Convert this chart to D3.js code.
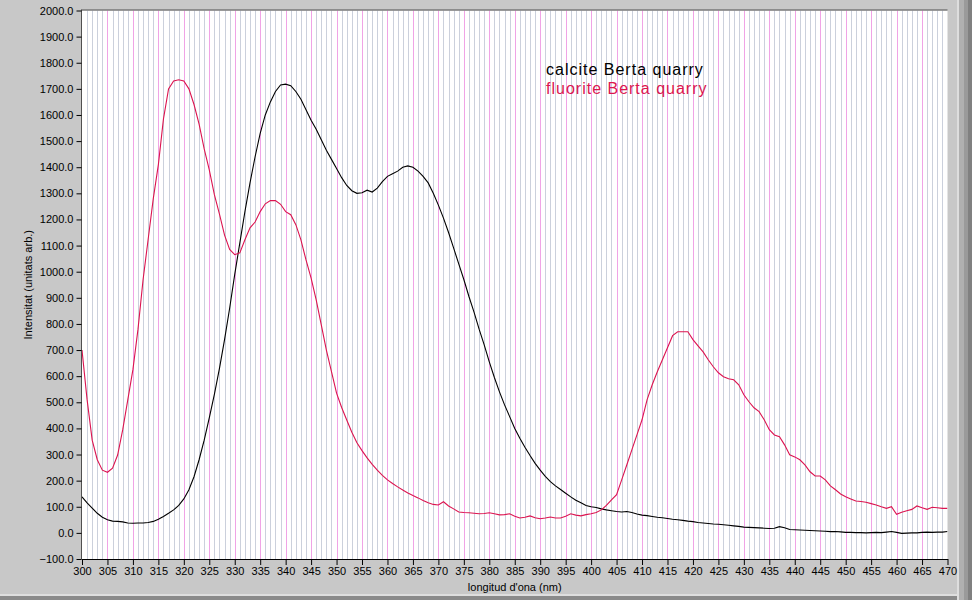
<!DOCTYPE html>
<html><head><meta charset="utf-8">
<script src="https://cdn.jsdelivr.net/npm/d3@7"></script>
<style>body{margin:0;background:#c8c8c8;}svg{display:block;}</style>
</head><body>
<script>
const wavelengths = d3.range(300, 471);
const calcite = [138,115,95,75,60,50,45,44,42,38,37,38,38,40,44,52,63,75,88,105,
130,165,215,280,355,440,530,630,740,860,990,1110,1230,1340,1440,1530,1600,1650,1690,1715,
1718,1712,1690,1660,1620,1580,1545,1505,1465,1430,1395,1360,1330,1310,1300,1302,1312,1305,1320,1345,
1365,1375,1385,1400,1405,1400,1385,1365,1340,1300,1255,1205,1150,1090,1030,970,905,845,780,720,
655,595,540,490,445,400,362,328,296,266,240,216,196,180,166,152,138,125,115,105,
100,97,92,88,85,82,80,82,78,72,68,66,63,60,58,55,52,50,48,45,
43,40,38,36,34,33,31,29,27,25,22,21,20,19,18,17,18,24,20,13,
12,11,10,9,8,7,6,5,5,4,2,2,1,1,0,1,2,1,3,5,
2,-2,-1,0,0,2,3,2,3,3,5];
const fluorite = [700,510,355,280,240,232,248,298,395,510,625,780,970,1125,1280,1410,1585,1700,1730,1735,
1730,1700,1640,1565,1470,1390,1295,1220,1140,1085,1065,1072,1122,1168,1190,1230,1260,1272,1272,1258,
1230,1218,1180,1122,1045,975,892,796,700,617,535,480,432,385,345,315,287,262,240,220,
203,189,176,164,153,143,134,124,115,109,107,119,103,92,80,78,77,75,73,74,
77,73,69,70,73,64,57,60,65,58,54,57,61,57,57,64,73,68,65,70,
73,78,88,105,126,146,203,260,318,375,433,510,567,617,663,709,755,770,770,770,
740,716,693,663,636,613,598,590,586,567,529,502,479,464,433,395,375,368,337,299,
291,280,260,234,218,218,203,180,165,149,138,130,122,120,117,112,107,100,94,100,
71,79,85,90,103,96,90,98,96,94,94];
const yTicks = d3.range(-100, 2001, 100);
const xTicks = d3.range(300, 471, 5);
const seriesNames = ["calcite Berta quarry", "fluorite Berta quarry"];
const seriesColors = ["#000000", "#dc1450"];

const W = 972, H = 600;
const svg = d3.select("body").append("svg").attr("width", W).attr("height", H);
svg.append("rect").attr("width", W).attr("height", H).attr("fill", "#c8c8c8");
// window frame right/bottom
svg.append("rect").attr("x", 957).attr("y", 0).attr("width", 2).attr("height", H).attr("fill", "#dedede");
svg.append("rect").attr("x", 959).attr("y", 0).attr("width", 5).attr("height", H).attr("fill", "#b0b0b0");
svg.append("rect").attr("x", 964).attr("y", 0).attr("width", 4).attr("height", H).attr("fill", "#9a9a9a");
svg.append("rect").attr("x", 968).attr("y", 0).attr("width", 4).attr("height", H).attr("fill", "#808080");
svg.append("rect").attr("x", 0).attr("y", 594).attr("width", 957).attr("height", 2).attr("fill", "#dedede");
svg.append("rect").attr("x", 0).attr("y", 596).attr("width", 957).attr("height", 4).attr("fill", "#8a8a8a");

const L = 82, R = 947.5, T = 10.5, B = 559;
const x = d3.scaleLinear().domain([300, 470]).range([L, R]);
const y = d3.scaleLinear().domain([-100, 2000]).range([B, T]);

const g = svg.append("g");
g.append("rect").attr("x", L).attr("y", T).attr("width", R - L).attr("height", B - T).attr("fill", "#ffffff");
// minor grid
g.selectAll("line.minor").data(wavelengths.filter(d => d % 5 !== 0 && d !== 300 && d !== 470)).enter()
  .append("line").attr("x1", d => Math.round(x(d)) + 0.5).attr("x2", d => Math.round(x(d)) + 0.5)
  .attr("y1", T).attr("y2", B).attr("stroke", "#cbd0dc").attr("stroke-width", 1);
g.selectAll("line.major").data(xTicks.filter(d => d !== 300 && d !== 470)).enter()
  .append("line").attr("x1", d => Math.round(x(d)) + 0.5).attr("x2", d => Math.round(x(d)) + 0.5)
  .attr("y1", T).attr("y2", B).attr("stroke", "#f0a4e6").attr("stroke-width", 1);

// border
svg.append("line").attr("x1", L - 0.5).attr("x2", L - 0.5).attr("y1", T - 1).attr("y2", B + 0.5).attr("stroke", "#505050");
svg.append("line").attr("x1", L - 0.5).attr("x2", R).attr("y1", T - 0.5).attr("y2", T - 0.5).attr("stroke", "#505050");

// axes
const fontFam = "'Liberation Sans', Arial, sans-serif";
const yAxis = d3.axisLeft(y).tickValues(yTicks).tickFormat(d3.format(".1f")).tickSize(5).tickSizeOuter(0);
const ya = svg.append("g").attr("transform", `translate(${L - 0.5},0)`).call(yAxis);
ya.select(".domain").remove();
ya.selectAll("text").attr("font-family", fontFam).attr("font-size", 11).attr("fill", "#000").attr("x", -8);
ya.selectAll("line").attr("stroke", "#000");

const xAxis = d3.axisBottom(x).tickValues(xTicks).tickFormat(d3.format("d")).tickSize(6).tickSizeOuter(0);
const xa = svg.append("g").attr("transform", `translate(0,${B})`).call(xAxis);
xa.select(".domain").attr("stroke", "#000");
xa.selectAll("text").attr("font-family", fontFam).attr("font-size", 11).attr("fill", "#000").attr("y", 8);
xa.selectAll("line").attr("stroke", "#000");

svg.append("text").attr("x", (L + R) / 2).attr("y", 591).attr("text-anchor", "middle")
  .attr("font-family", fontFam).attr("font-size", 11).text("longitud d'ona (nm)");
svg.append("text").attr("transform", `translate(32,${(T + B) / 2}) rotate(-90)`).attr("text-anchor", "middle")
  .attr("font-family", fontFam).attr("font-size", 11).text("Intensitat (unitats arb.)");

// lines
const clip = svg.append("clipPath").attr("id", "c").append("rect").attr("x", L).attr("y", T).attr("width", R - L).attr("height", B - T);
const line = d3.line().x((d, i) => x(wavelengths[i])).y(d => y(d));
[calcite, fluorite].forEach((s, k) => {
  svg.append("path").datum(s).attr("d", line).attr("fill", "none")
    .attr("stroke", seriesColors[k]).attr("stroke-width", 1.1).attr("clip-path", "url(#c)");
});

// legend
seriesNames.forEach((n, k) => {
  svg.append("text").attr("x", 546).attr("y", 75 + k * 18.5).attr("font-family", fontFam)
    .attr("font-size", 16).attr("letter-spacing", 1).attr("fill", seriesColors[k]).text(n);
});
</script>
</body></html>
